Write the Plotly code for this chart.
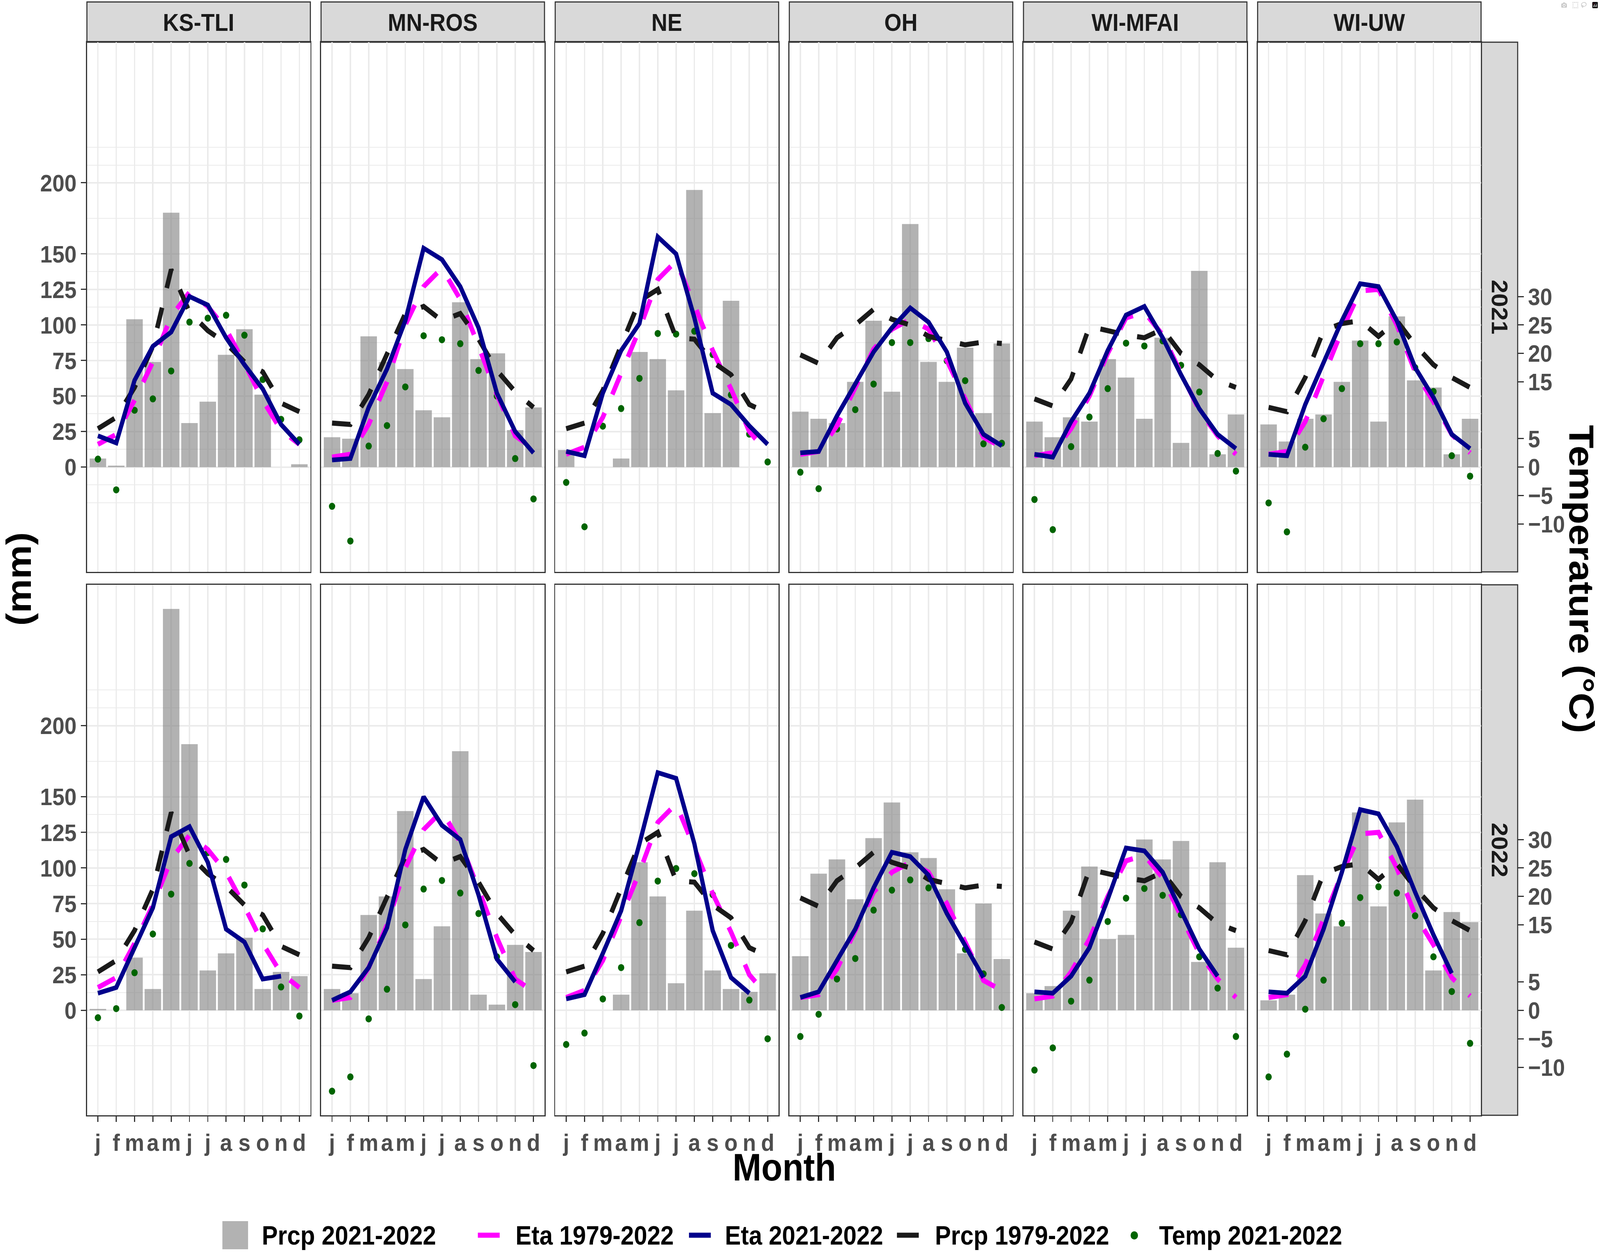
import plotly.graph_objects as go

SITES = ["KS-TLI", "MN-ROS", "NE", "OH", "WI-MFAI", "WI-UW"]
YEARS = ["2021", "2022"]
MONTHS = ["j", "f", "m", "a", "m", "j", "j", "a", "s", "o", "n", "d"]
MONTH_NO = list(range(1, 13))

# monthly precipitation of the year (mm) -> grey bars
PRCP_2021 = {
    "KS-TLI": [6, 1, 104, 74, 179, 31, 46, 79, 97, 51, 0, 2],
    "MN-ROS": [21, 20, 92, 74, 69, 40, 35, 116, 76, 80, 26, 42],
    "NE": [12, 0, 0, 6, 81, 76, 54, 195, 38, 117, 0, 0],
    "OH": [39, 34, 31, 60, 103, 53, 171, 74, 60, 84, 38, 87],
    "WI-MFAI": [32, 21, 35, 32, 76, 63, 34, 91, 17, 138, 9, 37],
    "WI-UW": [30, 18, 34, 37, 60, 89, 32, 106, 61, 56, 9, 34],
}
PRCP_2022 = {
    "KS-TLI": [1, 0, 37, 15, 282, 187, 28, 40, 51, 15, 27, 24],
    "MN-ROS": [15, 12, 67, 80, 140, 22, 59, 182, 11, 4, 46, 41],
    "NE": [0, 0, 0, 11, 104, 80, 19, 70, 28, 15, 13, 26],
    "OH": [38, 96, 106, 78, 121, 146, 111, 107, 85, 40, 75, 36],
    "WI-MFAI": [12, 17, 70, 101, 50, 53, 120, 106, 119, 34, 104, 44],
    "WI-UW": [7, 11, 95, 68, 59, 139, 73, 132, 148, 28, 69, 62],
}

# evapotranspiration of the year (mm) -> solid navy line
ETA_2021 = {
    "KS-TLI": [22, 17, 61, 85, 95, 120, 114, 91, 72, 55, 30, 16],
    "MN-ROS": [5, 6, 42, 69, 103, 154, 146, 127, 98, 52, 25, 10],
    "NE": [11, 8, 52, 82, 101, 162, 150, 105, 52, 44, 29, 16],
    "OH": [10, 11, 36, 58, 81, 98, 112, 102, 81, 45, 23, 15],
    "WI-MFAI": [9, 7, 32, 52, 82, 107, 113, 91, 65, 41, 23, 13],
    "WI-UW": [9, 8, 44, 73, 103, 129, 127, 103, 70, 49, 23, 13],
}
ETA_2022 = {
    "KS-TLI": [12, 16, 44, 72, 122, 129, 104, 57, 48, 22, 24, None],
    "MN-ROS": [7, 13, 30, 58, 113, 150, 130, 120, 81, 36, 20, None],
    "NE": [8, 11, 40, 70, 117, 167, 163, 117, 56, 23, 12, None],
    "OH": [9, 13, 35, 57, 86, 111, 108, 95, 68, 45, 23, None],
    "WI-MFAI": [13, 12, 24, 44, 78, 114, 112, 97, 70, 43, 24, None],
    "WI-UW": [13, 12, 24, 57, 97, 141, 138, 115, 83, 53, 26, None],
}

# air temperature of the year (deg C) -> green points
TEMP_2021 = {
    "KS-TLI": [1.4, -4.0, 10.0, 12.0, 16.9, 25.5, 26.2, 26.7, 23.2, 15.4, 8.4, 4.8],
    "MN-ROS": [-6.9, -13.0, 3.7, 7.3, 14.1, 23.1, 22.4, 21.7, 17.0, 12.5, 1.5, -5.6],
    "NE": [-2.7, -10.5, 7.2, 10.3, 15.6, 23.5, 23.4, 23.9, 19.8, 12.7, 5.8, 0.9],
    "OH": [-0.9, -3.8, 6.7, 10.1, 14.6, 21.9, 21.9, 22.6, 18.7, 15.2, 4.1, 4.2],
    "WI-MFAI": [-5.7, -11.0, 3.6, 8.8, 13.8, 21.8, 21.3, 22.2, 17.9, 13.2, 2.4, -0.7],
    "WI-UW": [-6.3, -11.4, 3.5, 8.5, 13.8, 21.7, 21.7, 22.0, 17.5, 13.3, 2.0, -1.6],
}
TEMP_2022 = {
    "KS-TLI": [-1.3, 0.3, 6.6, 13.4, 20.4, 25.8, 27.7, 26.5, 22.0, 14.3, 4.1, -1.0],
    "MN-ROS": [-14.2, -11.7, -1.5, 3.7, 15.0, 21.3, 22.8, 20.6, 17.0, 9.4, 1.0, -9.7],
    "NE": [-6.0, -4.0, 2.0, 7.5, 15.4, 22.7, 24.9, 24.0, 20.3, 11.4, 1.8, -5.0],
    "OH": [-4.6, -0.7, 5.5, 9.1, 17.6, 21.1, 22.9, 21.5, 17.8, 10.7, 6.4, 0.5],
    "WI-MFAI": [-10.5, -6.6, 1.6, 5.3, 15.6, 19.7, 21.4, 20.2, 16.8, 9.4, 3.9, -4.6],
    "WI-UW": [-11.7, -7.7, 0.2, 5.3, 15.3, 19.8, 21.7, 20.6, 16.6, 9.4, 3.3, -5.8],
}

# long-term means 1979-2022 (mm), same in both years
ETA_CLIM = {
    "KS-TLI": [16, 23, 47, 74, 106, 123, 113, 97, 73, 47, 26, 16],
    "MN-ROS": [7, 9, 30, 60, 100, 127, 140, 118, 85, 51, 22, 13],
    "NE": [9, 14, 35, 67, 97, 132, 145, 114, 82, 55, 25, 10],
    "OH": [9, 11, 29, 56, 83, 97, 104, 97, 75, 48, 21, 14],
    "WI-MFAI": [8, 10, 27, 50, 80, 105, 109, 93, 66, 40, 22, 9],
    "WI-UW": [9, 11, 32, 64, 96, 124, 125, 100, 67, 46, 23, 10],
}
PRCP_CLIM = {
    "KS-TLI": [27, 35, 56, 85, 139, 109, 96, 87, 74, 67, 45, 39],
    "MN-ROS": [31, 30, 51, 79, 108, 113, 103, 108, 90, 68, 53, 42],
    "NE": [27, 31, 54, 85, 117, 125, 91, 90, 74, 65, 44, 38],
    "OH": [79, 73, 91, 100, 111, 104, 100, 92, 89, 86, 88, 87],
    "WI-MFAI": [48, 43, 62, 99, 96, 93, 91, 97, 80, 72, 61, 56],
    "WI-UW": [42, 39, 63, 96, 101, 103, 92, 103, 86, 72, 63, 56],
}

PRCP = {"2021": PRCP_2021, "2022": PRCP_2022}
ETA = {"2021": ETA_2021, "2022": ETA_2022}
TEMP = {"2021": TEMP_2021, "2022": TEMP_2022}

MM_TICKS = [0, 25, 50, 75, 100, 125, 150, 200]
MM_MINOR = [-25, -12.5, 12.5, 37.5, 62.5, 87.5, 112.5, 137.5, 175, 212.5, 225]
TEMP_TICKS = [-10, -5, 0, 5, 15, 20, 25, 30]
TEMP_TO_MM = 4  # secondary axis: mm = 4 * degC

W, H = 4547, 3205
FONT = "Liberation Sans, Arial, sans-serif"
GRID = "#EBEBEB"
FRAME = "#333333"
C_BAR = "rgba(127,127,127,0.6)"
C_ETA_CLIM = "#FF00FF"
C_ETA = "#00008B"
C_PRCP_CLIM = "#1A1A1A"
C_TEMP = "#006400"
DASH = "54px,52px"


def px(x):
    return x / W


def py(y):
    return 1 - y / H


COL_X0, COL_W, COL_STEP = 247, 635, 665.4
ROWS = [(108, 1464), (1497, 2855)]

# y range like ggplot: data span + 5 %
vals = []
for yr in YEARS:
    for s in SITES:
        vals += [v for v in PRCP[yr][s] + ETA[yr][s] if v is not None]
        vals += [t * TEMP_TO_MM for t in TEMP[yr][s]]
for s in SITES:
    vals += ETA_CLIM[s] + PRCP_CLIM[s]
lo, hi = min(vals), max(vals)
pad = 0.05 * (hi - lo)
YR = [lo - pad, hi + pad]

tick_font = dict(family=FONT, size=62, color="#4D4D4D", weight="bold")

fig = go.Figure()
layout = {}
shapes = []
annotations = []

for r, yr in enumerate(YEARS):
    for c, site in enumerate(SITES):
        k = r * 6 + c + 1
        xa = "x" if k == 1 else f"x{k}"
        ya = "y" if k == 1 else f"y{k}"

        fig.add_trace(go.Bar(
            x=MONTH_NO, y=PRCP[yr][site], width=0.9,
            marker=dict(color=C_BAR, line=dict(width=0)),
            xaxis=xa, yaxis=ya, showlegend=False, name="Prcp 2021-2022",
        ))
        fig.add_trace(go.Scatter(
            x=MONTH_NO, y=[t * TEMP_TO_MM for t in TEMP[yr][site]],
            mode="markers", marker=dict(color=C_TEMP, size=18),
            xaxis=xa, yaxis=ya, showlegend=False, name="Temp 2021-2022",
        ))
        fig.add_trace(go.Scatter(
            x=MONTH_NO, y=ETA_CLIM[site], mode="lines",
            line=dict(color=C_ETA_CLIM, width=13, dash=DASH),
            xaxis=xa, yaxis=ya, showlegend=False, name="Eta 1979-2022",
        ))
        fig.add_trace(go.Scatter(
            x=MONTH_NO, y=PRCP_CLIM[site], mode="lines",
            line=dict(color=C_PRCP_CLIM, width=13, dash=DASH),
            xaxis=xa, yaxis=ya, showlegend=False, name="Prcp 1979-2022",
        ))
        fig.add_trace(go.Scatter(
            x=MONTH_NO, y=ETA[yr][site], mode="lines",
            line=dict(color=C_ETA, width=12),
            xaxis=xa, yaxis=ya, showlegend=False, name="Eta 2021-2022",
        ))

        x0 = COL_X0 + c * COL_STEP
        x1 = x0 + COL_W
        y0, y1 = ROWS[r]
        layout["xaxis" if k == 1 else f"xaxis{k}"] = dict(
            domain=[px(x0), px(x1)], anchor=ya, range=[0.4, 12.6],
            tickmode="array", tickvals=MONTH_NO, ticktext=MONTHS,
            showticklabels=(r == 1), ticks="outside" if r == 1 else "",
            ticklen=14, tickwidth=3, tickcolor=FRAME, tickfont=tick_font,
            showgrid=True, gridcolor=GRID, gridwidth=4, zeroline=False,
            showline=True, mirror=True, linecolor=FRAME, linewidth=3,
            fixedrange=True,
        )
        layout["yaxis" if k == 1 else f"yaxis{k}"] = dict(
            domain=[py(y1), py(y0)], anchor=xa, range=YR,
            tickmode="array", tickvals=MM_TICKS,
            showticklabels=(c == 0), ticks="outside" if c == 0 else "",
            ticklen=14, tickwidth=3, tickcolor=FRAME, tickfont=tick_font,
            showgrid=True, gridcolor=GRID, gridwidth=4, zeroline=False,
            minor=dict(tickmode="array", tickvals=MM_MINOR, showgrid=True,
                       gridcolor=GRID, gridwidth=2, ticks=""),
            showline=True, mirror=True, linecolor=FRAME, linewidth=3,
            fixedrange=True,
        )

        if r == 0:
            shapes.append(dict(type="rect", xref="paper", yref="paper",
                               x0=px(x0), x1=px(x1), y0=py(108), y1=py(5),
                               fillcolor="#D9D9D9", line=dict(color=FRAME, width=3),
                               layer="below"))
            annotations.append(dict(text=site, x=px((x0 + x1) / 2), y=py(57),
                                    xref="paper", yref="paper", showarrow=False,
                                    xanchor="center", yanchor="middle",
                                    font=dict(family=FONT, size=63, color="#1A1A1A",
                                              weight="bold")))

    # year strip and temperature axis on the right of each row
    y0, y1 = ROWS[r]
    shapes.append(dict(type="rect", xref="paper", yref="paper",
                       x0=px(4210), x1=px(4313), y0=py(y1), y1=py(y0),
                       fillcolor="#D9D9D9", line=dict(color=FRAME, width=3),
                       layer="below"))
    annotations.append(dict(text=yr, x=px(4262), y=py((y0 + y1) / 2),
                            xref="paper", yref="paper", showarrow=False,
                            textangle=90, xanchor="center", yanchor="middle",
                            font=dict(family=FONT, size=63, color="#1A1A1A",
                                      weight="bold")))
    k_last = r * 6 + 6
    k_sec = 13 + r
    fig.add_trace(go.Scatter(x=[None], y=[None], xaxis=f"x{k_last}",
                             yaxis=f"y{k_sec}", showlegend=False,
                             hoverinfo="skip"))
    layout[f"yaxis{k_sec}"] = dict(
        overlaying=f"y{k_last}", anchor="free", position=px(4313), side="right",
        range=[YR[0] / TEMP_TO_MM, YR[1] / TEMP_TO_MM],
        tickmode="array", tickvals=TEMP_TICKS, ticks="outside",
        ticklen=16, tickwidth=3, tickcolor=FRAME, tickfont=tick_font,
        showgrid=False, zeroline=False, showline=False, fixedrange=True,
    )

title_font = dict(family=FONT, size=98, color="#000000", weight="bold")
annotations += [
    dict(text="Month", x=px(2229), y=py(2988), xref="paper", yref="paper",
         showarrow=False, xanchor="center", yanchor="middle", font=title_font),
    dict(text="(mm)", x=px(54), y=py(1482), xref="paper", yref="paper",
         showarrow=False, textangle=-90, xanchor="center", yanchor="middle",
         font=title_font),
    dict(text="Temperature (°C)", x=px(4494), y=py(1482), xref="paper",
         yref="paper", showarrow=False, textangle=90, xanchor="center",
         yanchor="middle", font=title_font),
]

# legend drawn by hand so the keys get ggplot-sized glyphs
LEG_Y = 3162
leg_font = dict(family=FONT, size=68, color="#000000", weight="bold")
shapes.append(dict(type="rect", xref="paper", yref="paper",
                   x0=px(632), x1=px(705), y0=py(3198), y1=py(3126),
                   fillcolor=C_BAR, line=dict(width=0)))
for xa_, xb_, col in [(1358, 1420, C_ETA_CLIM), (1958, 2020, C_ETA),
                      (2549, 2611, C_PRCP_CLIM)]:
    shapes.append(dict(type="line", xref="paper", yref="paper",
                       x0=px(xa_), x1=px(xb_), y0=py(LEG_Y), y1=py(LEG_Y),
                       line=dict(color=col, width=13)))
shapes.append(dict(type="circle", xref="paper", yref="paper",
                   x0=px(3213), x1=px(3234), y0=py(3173), y1=py(3152),
                   fillcolor=C_TEMP, line=dict(width=0)))
for label, lx in [("Prcp 2021-2022", 742), ("Eta 1979-2022", 1463),
                  ("Eta 2021-2022", 2058), ("Prcp 1979-2022", 2655),
                  ("Temp 2021-2022", 3292)]:
    annotations.append(dict(text=label, x=px(lx), y=py(LEG_Y), xref="paper",
                            yref="paper", showarrow=False, xanchor="left",
                            yanchor="middle", font=leg_font))

fig.update_layout(
    width=W, height=H,
    margin=dict(l=0, r=0, t=0, b=0),
    paper_bgcolor="white", plot_bgcolor="white",
    barmode="overlay", showlegend=False,
    font=dict(family=FONT),
    shapes=shapes, annotations=annotations,
    **layout,
)

# the browser viewport can come out smaller than the 4547x3205 figure:
# stretch the drawn figure so it fills the viewport exactly
fit_js = """
var de = document.documentElement, bd = document.body;
de.style.margin = '0'; bd.style.margin = '0';
de.style.padding = '0'; bd.style.padding = '0';
de.style.overflow = 'hidden'; bd.style.overflow = 'hidden';
var vw = de.clientWidth || window.innerWidth;
var vh = de.clientHeight || window.innerHeight;
var sx = vw / %(W)d;
var sy = vh > 0 ? vh / %(H)d : sx;
var gd = document.getElementById('{plot_id}');
gd.style.transformOrigin = '0 0';
gd.style.transform = 'scale(' + sx + ',' + sy + ')';
de.style.width = vw + 'px'; bd.style.width = vw + 'px';
de.style.height = Math.ceil(%(H)d * sy) + 'px';
bd.style.height = Math.ceil(%(H)d * sy) + 'px';
""" % {"W": W, "H": H}

fig.write_html("out.html", post_script=fit_js)
